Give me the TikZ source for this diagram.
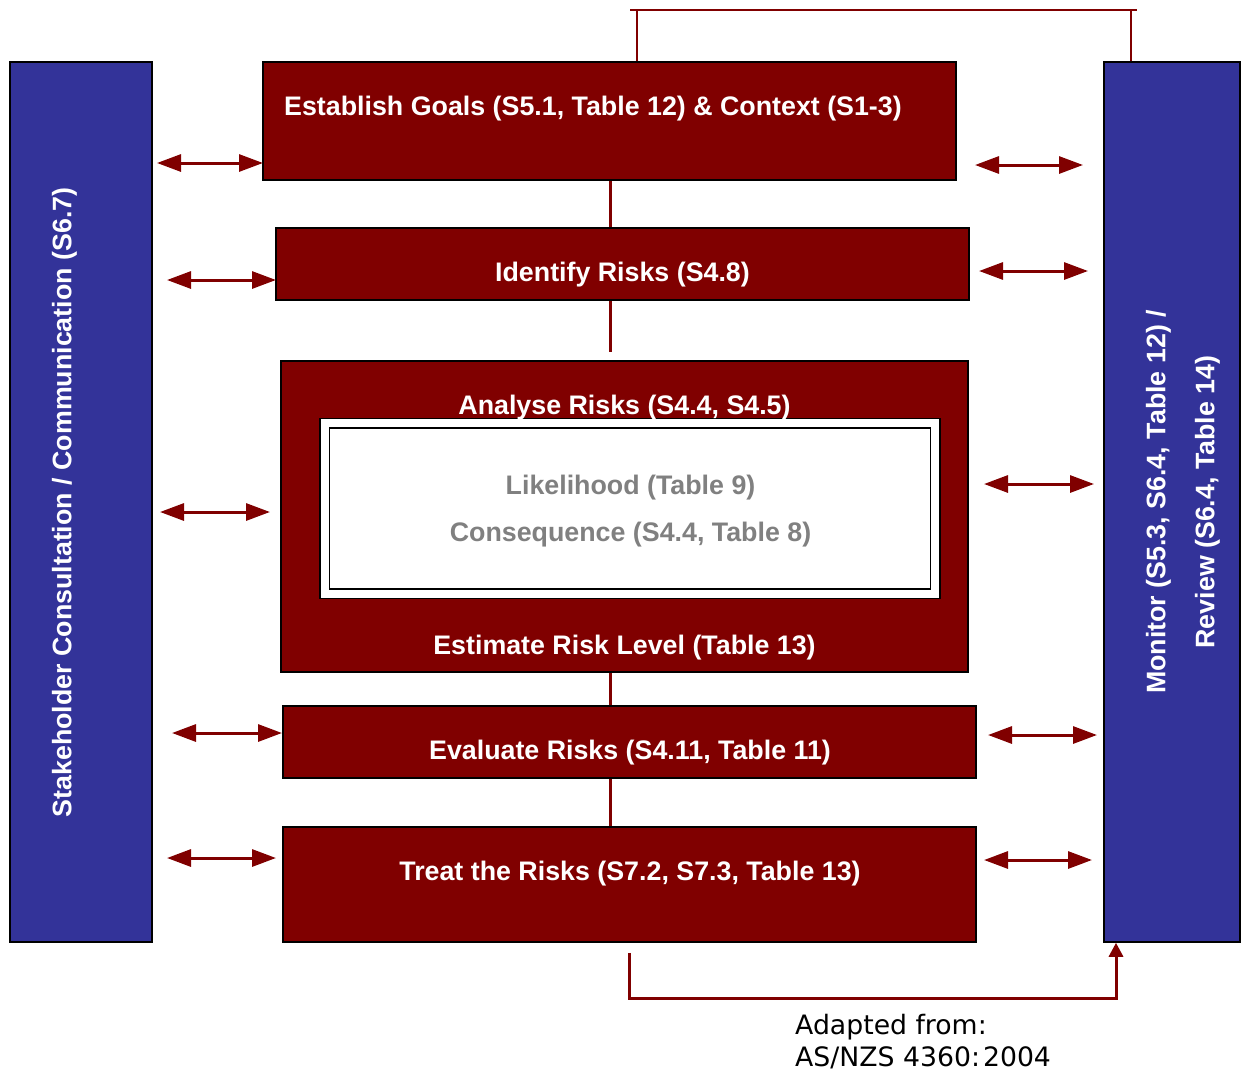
\documentclass[tikz,border=0pt]{standalone}
\usepackage{fontspec}
\setmainfont{Liberation Sans}
\newfontfamily\capfont{DejaVu Sans}
\usetikzlibrary{arrows.meta}
\definecolor{boxred}{HTML}{800000}
\definecolor{barblue}{HTML}{333399}
\definecolor{softgray}{HTML}{808080}
\tikzset{
  redbox/.style={rectangle, draw=black, line width=1.5pt, fill=boxred, inner sep=0pt},
  bluebar/.style={rectangle, draw=black, line width=1.5pt, fill=barblue, inner sep=0pt},
  innerbox/.style={rectangle, draw=black, line width=1.5pt, double=white, double distance=8pt, fill=white, inner sep=0pt},
  lbl/.style={text=white, inner sep=0pt, font=\bfseries\fontsize{26.8}{30}\selectfont},
  graylbl/.style={text=softgray, inner sep=0pt, font=\bfseries\fontsize{26.8}{30}\selectfont},
  conn/.style={draw=boxred, line width=3pt},
  dblarrow/.style={conn, {Triangle[length=24pt,width=17pt]}-{Triangle[length=24pt,width=17pt]}},
}
\begin{document}
\begin{tikzpicture}[x=1pt,y=-1pt]
\useasboundingbox (0,0) rectangle (1243,1072);
% side bars
\node[bluebar, minimum width=142pt, minimum height=880pt] (stake) at (81,502) {};
\node[bluebar, minimum width=136pt, minimum height=880pt] (mon) at (1172,502) {};
\node[lbl, rotate=90] (staketxt) at (64.5,502.5) {Stakeholder Consultation / Communication (S6.7)};
\node[lbl, rotate=90, align=center, font=\bfseries\fontsize{26.8}{49}\selectfont] (montxt) at (1183,502) {Monitor (S5.3, S6.4, Table 12) /\\Review (S6.4, Table 14)};
% process boxes
\node[redbox, minimum width=693pt, minimum height=118pt] (b1) at (609.5,121) {};
\node[redbox, minimum width=693pt, minimum height=72pt] (b2) at (622.5,264) {};
\node[redbox, minimum width=687pt, minimum height=311pt] (b3) at (624.5,516.5) {};
\node[innerbox, minimum width=610.5pt, minimum height=170.5pt] (inner) at (629.75,508.25) {};
\node[redbox, minimum width=693pt, minimum height=72pt] (b4) at (629.5,742) {};
\node[redbox, minimum width=693pt, minimum height=115pt] (b5) at (629.5,884.5) {};
% texts
\node[lbl, anchor=west] (t1) at (284,109) {Establish Goals (S5.1, Table 12) \& Context (S1-3)};
\node[lbl] (t2) at (622.5,275) {Identify Risks (S4.8)};
\node[lbl] (t3a) at (624.5,408) {Analyse Risks (S4.4, S4.5)};
\node[graylbl] (t3b) at (630.5,488) {Likelihood (Table 9)};
\node[graylbl] (t3c) at (630.5,535) {Consequence (S4.4, Table 8)};
\node[lbl] (t3d) at (624.5,648) {Estimate Risk Level (Table 13)};
\node[lbl] (t4) at (630,753) {Evaluate Risks (S4.11, Table 11)};
\node[lbl] (t5) at (630,874) {Treat the Risks (S7.2, S7.3, Table 13)};
% vertical flow connectors
\coordinate (vx) at (610,0);
\draw[conn] (b1.south -| vx) -- (b2.north -| vx);
\draw[conn] (b2.south -| vx) -- ([yshift=8pt]b3.north -| vx);
\draw[conn] (b3.south -| vx) -- (b4.north -| vx);
\draw[conn] (b4.south -| vx) -- (b5.north -| vx);
% top feedback
\coordinate (tl) at (637,10);
\coordinate (tr) at (1131,10);
\draw[draw=boxred, line width=2.5pt] (b1.north -| tl) -- (tl);
\draw[draw=boxred, line width=2.5pt] (mon.north -| tr) -- (tr);
\draw[draw=boxred, line width=2.5pt] ([xshift=-7pt]tl) -- ([xshift=6pt]tr);
% bottom feedback
\coordinate (bl) at (629,998);
\coordinate (br) at (1116,998);
\draw[conn, -{Triangle[length=14pt,width=14pt]}] ([yshift=-10pt]b5.south -| bl) -- (bl) -- (br) -- (mon.south -| br);
% left double arrows
\coordinate (l1a) at (157,163); \coordinate (l1b) at (263,163);
\coordinate (l2a) at (167,280); \coordinate (l2b) at (276,280);
\coordinate (l3a) at (160,512); \coordinate (l3b) at (270,512);
\coordinate (l4a) at (172,733); \coordinate (l4b) at (282,733);
\coordinate (l5a) at (167,858); \coordinate (l5b) at (276,858);
\draw[dblarrow] (l1a) -- (l1b);
\draw[dblarrow] (l2a) -- (l2b);
\draw[dblarrow] (l3a) -- (l3b);
\draw[dblarrow] (l4a) -- (l4b);
\draw[dblarrow] (l5a) -- (l5b);
% right double arrows
\coordinate (r1a) at (975,165); \coordinate (r1b) at (1083,165);
\coordinate (r2a) at (979,271); \coordinate (r2b) at (1088,271);
\coordinate (r3a) at (984,484); \coordinate (r3b) at (1094,484);
\coordinate (r4a) at (988,735); \coordinate (r4b) at (1097,735);
\coordinate (r5a) at (984,860); \coordinate (r5b) at (1092,860);
\draw[dblarrow] (r1a) -- (r1b);
\draw[dblarrow] (r2a) -- (r2b);
\draw[dblarrow] (r3a) -- (r3b);
\draw[dblarrow] (r4a) -- (r4b);
\draw[dblarrow] (r5a) -- (r5b);
% caption
\node[anchor=west, align=left, inner sep=0pt, font=\capfont\fontsize{26.7}{32}\selectfont] (cap) at (795,1042) {Adapted from:\\AS/NZS 4360:\kern3pt2004};
\end{tikzpicture}
\end{document}
